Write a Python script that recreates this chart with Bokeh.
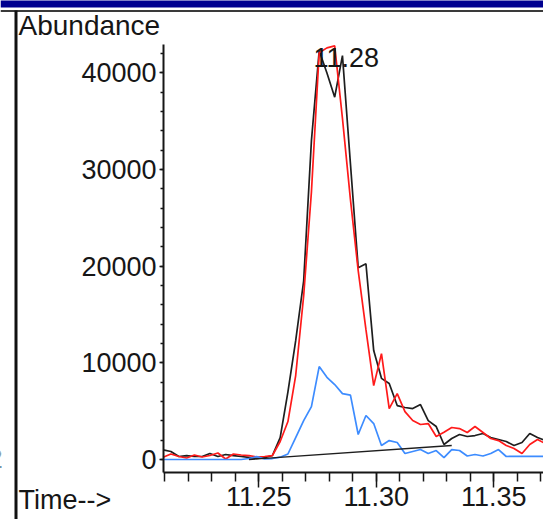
from bokeh.plotting import figure
from bokeh.models import (Range1d, SingleIntervalTicker, NumeralTickFormatter,
                          BasicTickFormatter, Label, BoxAnnotation)
from bokeh.embed import file_html
from bokeh.resources import INLINE

# Retention time of each scan (min)
time_min = [
    11.2093, 11.2126, 11.2160, 11.2193, 11.2226, 11.2259, 11.2292, 11.2326, 11.2359, 11.2392,
    11.2425, 11.2458, 11.2491, 11.2525, 11.2558, 11.2591, 11.2624, 11.2657, 11.2691, 11.2724,
    11.2757, 11.2790, 11.2823, 11.2856, 11.2890, 11.2923, 11.2956, 11.2989, 11.3022, 11.3055,
    11.3089, 11.3122, 11.3155, 11.3188, 11.3221, 11.3255, 11.3288, 11.3321, 11.3354, 11.3387,
    11.3420, 11.3454, 11.3487, 11.3520, 11.3553, 11.3586, 11.3620, 11.3653, 11.3686, 11.3719,
]

# Total ion signal (black)
tic_abund = [
    1000, 830, 310, 410, 310, 310, 620, 310, 520, 410,
    310, 210, 100, 200, 410, 2270, 7000, 12300, 18500, 33000,
    42300, 40000, 37500, 41800, 30600, 19850, 20260, 11270, 8400, 7860,
    5580, 5380, 5270, 5690, 4030, 3410, 1550, 2170, 2590, 2380,
    2480, 2690, 2270, 2070, 1860, 1450, 1760, 2690, 2270, 1960,
]

# First extracted ion (red)
ion1_abund = [
    240, 570, 310, 155, 465, 260, 410, 670, 50, 570,
    465, 410, 260, 310, 410, 1860, 3930, 8690, 16950, 27700,
    42100, 42600, 42800, 35300, 26900, 19550, 13440, 7650, 10960, 5270,
    6820, 4960, 4030, 3620, 3720, 2380, 2820, 3310, 3200, 2790,
    3410, 2790, 2170, 1960, 1450, 1140, 620, 1550, 2070, 1650,
]

# Second extracted ion (blue)
ion2_abund = [
    0, 0, 0, 0, 0, 0, 0, 0, 0, 0,
    0, 100, 300, 50, 100, 240, 570, 2270, 4030, 5480,
    9620, 8510, 7760, 6820, 6670, 2590, 4550, 3720, 1450, 1960,
    1760, 620, 830, 1030, 620, 930, 200, 1030, 930, 360,
    520, 360, 620, 1030, 310, 330, 330, 330, 330, 330,
]

# Integration baseline under the peak
baseline_time = [11.2458, 11.3321]
baseline_abund = [0, 1450]

peak_label = "11.28"
peak_label_time = 11.2733
peak_label_abund = 41600

# Axis extents (where the two axes meet)
T_START, T_END = 11.20945, 11.3725
A_BOTTOM, A_TOP = -1345, 42900

FONT = "Liberation Sans"
INK = "#161616"
W, H = 543, 519

p = figure(width=W, height=H, output_backend="svg", toolbar_location=None,
           x_range=Range1d(11.14009, 11.37115), y_range=Range1d(-6210, 47503),
           min_border=0)
p.title.visible = False
p.outline_line_color = None
p.xgrid.grid_line_color = None
p.ygrid.grid_line_color = None
p.background_fill_color = "white"
p.border_fill_color = "white"

xa = p.xaxis[0]
xa.fixed_location = A_BOTTOM
xa.bounds = (T_START, T_END)
xa.ticker = SingleIntervalTicker(interval=0.05, num_minor_ticks=5)
xa.formatter = NumeralTickFormatter(format="0.00")
xa.axis_line_width = 2
xa.axis_line_color = INK
xa.major_tick_out = 15
xa.major_tick_in = 0
xa.minor_tick_out = 9
xa.minor_tick_in = 0
xa.major_tick_line_width = 1.5
xa.minor_tick_line_width = 1.5
xa.major_tick_line_color = INK
xa.minor_tick_line_color = INK
xa.major_label_standoff = 0
xa.major_label_text_font = FONT
xa.major_label_text_font_size = "27px"
xa.major_label_text_color = INK

ya = p.yaxis[0]
ya.fixed_location = T_START
ya.bounds = (A_BOTTOM, A_TOP)
ya.ticker = SingleIntervalTicker(interval=10000, num_minor_ticks=5)
ya.formatter = BasicTickFormatter(use_scientific=False)
ya.axis_line_width = 2
ya.axis_line_color = INK
ya.major_tick_out = 4
ya.major_tick_in = 0
ya.minor_tick_out = 3
ya.minor_tick_in = 0
ya.major_tick_line_width = 1.5
ya.minor_tick_line_width = 1.5
ya.major_tick_line_color = INK
ya.minor_tick_line_color = INK
ya.major_label_standoff = 3
ya.major_label_text_font = FONT
ya.major_label_text_font_size = "27px"
ya.major_label_text_color = INK

# traces
p.line(time_min, tic_abund, line_color="#1e1e1e", line_width=1.7)
p.line(time_min, ion1_abund, line_color="#ff1a1a", line_width=1.7)
p.line(time_min, ion2_abund, line_color="#3d8cff", line_width=1.7)
p.line(baseline_time, baseline_abund, line_color="#1e1e1e", line_width=1.3)

p.add_layout(Label(x=peak_label_time, y=peak_label_abund, text=peak_label,
                   text_font=FONT, text_font_size="27px", text_color=INK,
                   text_baseline="alphabetic", text_align="left"))


def box(left, right, top, bottom, color):
    # rectangle given in page pixels (origin top-left)
    return BoxAnnotation(left=left, right=right, top=H - top, bottom=H - bottom,
                         left_units="screen", right_units="screen",
                         top_units="screen", bottom_units="screen",
                         fill_color=color, fill_alpha=1, line_color=None,
                         level="overlay")


# window chrome: title bar, separator and left rule
p.add_layout(box(0, W, -1, 7, "#000090"))
p.add_layout(box(0, W, 9.5, 11.5, "#3a3a3a"))
p.add_layout(box(14, 17, 10, H + 1, "#111111"))


def caption(text, left, baseline, size="27px", align="left"):
    return Label(x=left, y=H - baseline + 13, x_units="screen", y_units="screen",
                 text=text, text_font=FONT, text_font_size=size,
                 text_color=INK, text_baseline="alphabetic", text_align=align)


p.add_layout(caption("Abundance", 18, 38, size="28px"))
p.add_layout(caption("Time-->", 18, 512))
p.add_layout(caption("2", 2, 471, align="right"))

open("out.html", "w").write(file_html(p, INLINE))
